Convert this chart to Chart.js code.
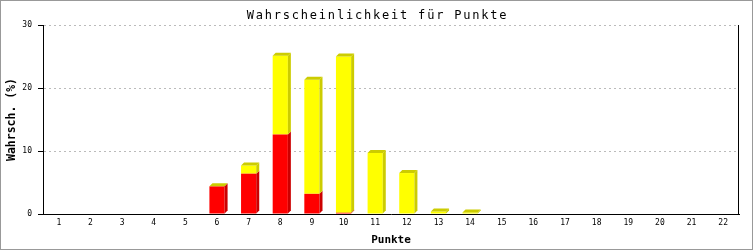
<!DOCTYPE html>
<html>
<head>
<meta charset="utf-8">
<script src="https://cdn.jsdelivr.net/npm/chart.js@4/dist/chart.umd.min.js"></script>
<style>
  html, body { margin: 0; padding: 0; background: #fff; }
  canvas { display: block; }
</style>
</head>
<body>
<canvas id="chart" width="753" height="250"></canvas>
<script>
// data
const punkte = ['1','2','3','4','5','6','7','8','9','10','11','12','13','14','15','16','17','18','19','20','21','22'];
const rotWerte = [0, 0, 0, 0, 0, 4.4, 6.4, 12.6, 3.2, 0.2, 0, 0, 0, 0, 0, 0, 0, 0, 0, 0, 0, 0];
const gelbWerte = [0, 0, 0, 0, 0, 0, 1.3, 12.5, 18.1, 24.8, 9.7, 6.5, 0.4, 0.25, 0, 0, 0, 0, 0, 0, 0, 0];
const yTicks = [0, 10, 20, 30];
const titel = 'Wahrscheinlichkeit für Punkte';

const frontColors = ['#ff0000', '#ffff00'];
const sideColors = ['#cc0000', '#cccc00'];
const mono = "'DejaVu Sans Mono', monospace";

// draws the 3D side and top faces next to each bar drawn by Chart.js
const bars3d = {
    id: 'bars3d',
    afterDatasetsDraw(chart) {
        const ctx = chart.ctx;
        const d = 3;
        const metas = chart.data.datasets.map((ds, k) => chart.getDatasetMeta(k));
        ctx.save();
        for (let i = 0; i < punkte.length; i++) {
            const total = chart.data.datasets.reduce((s, ds) => s + ds.data[i], 0);
            if (!total) continue;
            let top = null, left = 0, right = 0;
            metas.forEach((meta, k) => {
                const p = meta.data[i].getProps(['x', 'y', 'base', 'width'], true);
                const l = p.x - p.width / 2, r = p.x + p.width / 2;
                if (p.base - p.y > 0) {
                    ctx.fillStyle = sideColors[k];
                    ctx.beginPath();
                    ctx.moveTo(r, p.y);
                    ctx.lineTo(r + d, p.y - d);
                    ctx.lineTo(r + d, p.base - d);
                    ctx.lineTo(r, p.base);
                    ctx.closePath();
                    ctx.fill();
                }
                top = p.y; left = l; right = r;
            });
            ctx.fillStyle = sideColors[sideColors.length - 1];
            ctx.beginPath();
            ctx.moveTo(left, top);
            ctx.lineTo(left + d, top - d);
            ctx.lineTo(right + d, top - d);
            ctx.lineTo(right, top);
            ctx.closePath();
            ctx.fill();
        }
        ctx.restore();
    }
};

// white background, title, grey outer frame and right edge of the plot
const frame = {
    id: 'frame',
    beforeDraw(chart) {
        const ctx = chart.ctx;
        ctx.save();
        ctx.fillStyle = '#fff';
        ctx.fillRect(0, 0, chart.width, chart.height);
        ctx.restore();
    },
    afterDraw(chart) {
        const ctx = chart.ctx;
        const a = chart.chartArea;
        ctx.save();
        ctx.strokeStyle = '#000';
        ctx.lineWidth = 1;
        ctx.beginPath();
        ctx.moveTo(Math.round(a.right) - 0.5, a.top);
        ctx.lineTo(Math.round(a.right) - 0.5, a.bottom);
        ctx.stroke();
        ctx.strokeStyle = '#999';
        ctx.strokeRect(0.5, 0.5, chart.width - 1, chart.height - 1);

        // title: wide spaced monospace like the original
        ctx.font = '12px ' + mono;
        ctx.letterSpacing = '1.8px';
        ctx.fillStyle = '#000';
        ctx.textAlign = 'center';
        ctx.textBaseline = 'alphabetic';
        ctx.fillText(titel, chart.width / 2 + 1, 18.5);
        ctx.restore();
    }
};

new Chart(document.getElementById('chart'), {
    type: 'bar',
    data: {
        labels: punkte,
        datasets: [
            { label: 'rot', data: rotWerte, backgroundColor: frontColors[0], borderWidth: 0 },
            { label: 'gelb', data: gelbWerte, backgroundColor: frontColors[1], borderWidth: 0 }
        ]
    },
    options: {
        responsive: false,
        animation: false,
        devicePixelRatio: 1,
        layout: { padding: { left: 0, right: 14, top: 25, bottom: 0 } },
        datasets: { bar: { categoryPercentage: 1, barPercentage: 0.48 } },
        plugins: {
            legend: { display: false },
            tooltip: { enabled: false },
            title: { display: false }
        },
        scales: {
            x: {
                stacked: true,
                offset: true,
                grid: { display: false, drawTicks: false },
                border: { display: true, color: '#000', width: 1 },
                ticks: { color: '#000', font: { family: mono, size: 8 }, padding: 4, maxRotation: 0, autoSkip: false },
                title: {
                    display: true,
                    text: 'Punkte',
                    color: '#000',
                    font: { family: mono, size: 11, weight: 'bold', lineHeight: 1.2 },
                    padding: { top: 0, bottom: 3.4 }
                },
                afterFit(scale) { scale.height = 36; }
            },
            y: {
                stacked: true,
                min: 0,
                max: 30,
                afterBuildTicks(scale) { scale.ticks = yTicks.map(v => ({ value: v })); },
                grid: {
                    color: ctx => ctx.tick && ctx.tick.value === 0 ? 'rgba(0,0,0,0)' : '#bbbbbb',
                    lineWidth: 1,
                    drawTicks: true,
                    tickLength: 5,
                    tickColor: '#000',
                    tickBorderDash: []
                },
                border: { display: true, color: '#000', width: 1, dash: [2, 3] },
                ticks: { color: '#000', font: { family: mono, size: 8 }, padding: 6 },
                title: {
                    display: true,
                    text: 'Wahrsch. (%)',
                    color: '#000',
                    font: { family: mono, size: 11.5, weight: 'bold', lineHeight: 1.2 },
                    padding: { top: 5.6, bottom: 0 }
                },
                afterFit(scale) { scale.width = 43; }
            }
        }
    },
    plugins: [frame, bars3d]
});
</script>
</body>
</html>
